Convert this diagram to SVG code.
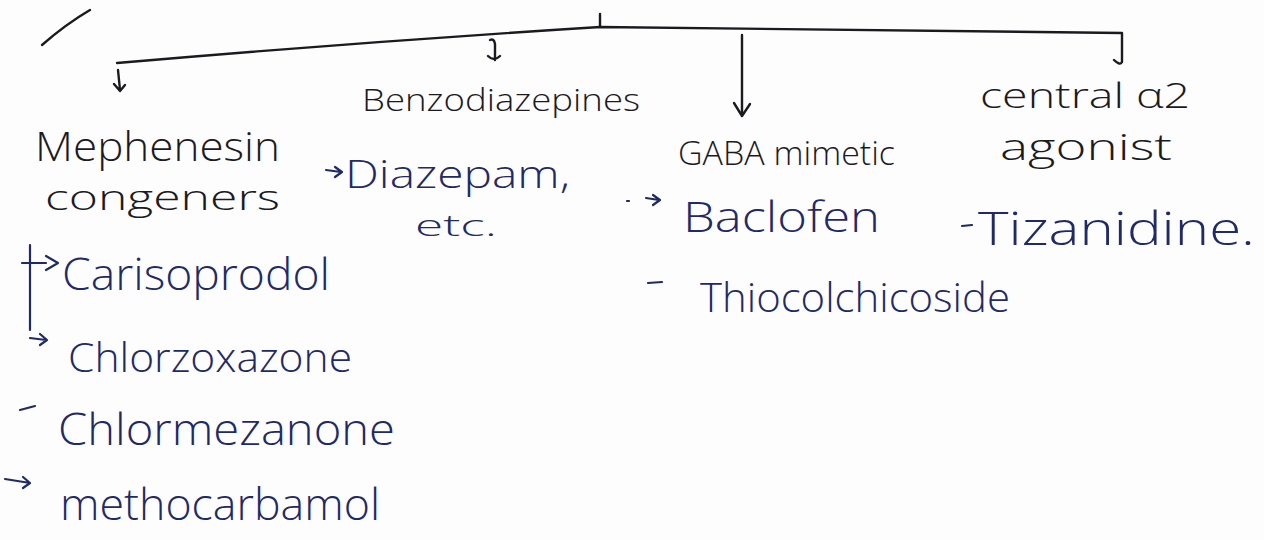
<svg xmlns="http://www.w3.org/2000/svg" width="1264" height="540" viewBox="0 0 1264 540">
<style>
.ink{fill:none;stroke:#1b1b1f;stroke-width:2.4;stroke-linecap:round;stroke-linejoin:round}
.blue{fill:none;stroke:#1f2a66;stroke-width:2.2;stroke-linecap:round;stroke-linejoin:round}
.h{font-family:"Open Sans","Liberation Sans",sans-serif;font-weight:300;fill:#1b1b1f}
.d{font-family:"Open Sans","Liberation Sans",sans-serif;font-weight:300;fill:#1f2a66}
</style>
<rect width="1264" height="540" fill="#fdfdfd"/>
<g id="connectors">
<path class="ink" d="M42,45 Q66,24 90,10"/>
<path class="ink" d="M600,14 L600,26"/>
<path class="ink" d="M117,63 Q360,42 600,27 L1122,33 L1122,62 Q1120,66 1114,60"/>
<path class="ink" d="M118,70 L120,90 M114,84 L120,91 L125,85"/>
<path class="ink" d="M490,40 Q494,38 495,44 L495,60 M488,56 Q494,62 500,56"/>
<path class="ink" d="M742,35 L742,115 M734,103 L742,116 L750,104"/>
<path class="blue" d="M30,245 L30,330 M22,263 L46,263 M46,256 L58,263 L46,270 M30,338 L46,340 M40,334 L47,340 L40,345"/>
<path class="blue" d="M20,410 L35,406"/>
<path class="blue" d="M5,479 L30,483 M23,477 L30,483 L23,488"/>
<path class="blue" d="M326,170 L341,172 M335,167 L342,172 L335,177"/>
<path class="blue" d="M627,201 L629,201 M646,198 L659,200 M653,195 L660,200 L653,205"/>
<path class="blue" d="M648,283 L662,282"/>
<path class="blue" d="M962,226 L972,225"/>
</g>
<g id="mephenesin">
<text class="h" x="35" y="161" font-size="40" textLength="245" lengthAdjust="spacingAndGlyphs">Mephenesin</text>
<text class="h" x="45" y="210" font-size="34" textLength="235" lengthAdjust="spacingAndGlyphs">congeners</text>
</g>
<g id="benzodiazepines">
<text class="h" x="362" y="111" font-size="32" textLength="278" lengthAdjust="spacingAndGlyphs">Benzodiazepines</text>
</g>
<g id="gaba">
<text class="h" x="678" y="165" font-size="33" textLength="217" lengthAdjust="spacingAndGlyphs">GABA mimetic</text>
</g>
<g id="central">
<text class="h" x="980" y="108" font-size="34" textLength="210" lengthAdjust="spacingAndGlyphs">central α2</text>
<text class="h" x="1000" y="160" font-size="36" textLength="172" lengthAdjust="spacingAndGlyphs">agonist</text>
</g>
<g id="diazepam">
<text class="d" x="345" y="188" font-size="38" textLength="225" lengthAdjust="spacingAndGlyphs">Diazepam,</text>
<text class="d" x="415" y="236" font-size="30" textLength="82" lengthAdjust="spacingAndGlyphs">etc.</text>
</g>
<g id="baclofen">
<text class="d" x="683" y="232" font-size="42" textLength="197" lengthAdjust="spacingAndGlyphs">Baclofen</text>
</g>
<g id="thiocolchicoside">
<text class="d" x="700" y="312" font-size="40" textLength="310" lengthAdjust="spacingAndGlyphs">Thiocolchicoside</text>
</g>
<g id="tizanidine">
<text class="d" x="978" y="245" font-size="46" textLength="277" lengthAdjust="spacingAndGlyphs">Tizanidine.</text>
</g>
<g id="carisoprodol">
<text class="d" x="62" y="290" font-size="44" textLength="268" lengthAdjust="spacingAndGlyphs">Carisoprodol</text>
</g>
<g id="chlorzoxazone">
<text class="d" x="68" y="372" font-size="40" textLength="284" lengthAdjust="spacingAndGlyphs">Chlorzoxazone</text>
</g>
<g id="chlormezanone">
<text class="d" x="58" y="445" font-size="44" textLength="337" lengthAdjust="spacingAndGlyphs">Chlormezanone</text>
</g>
<g id="methocarbamol">
<text class="d" x="60" y="520" font-size="44" textLength="320" lengthAdjust="spacingAndGlyphs">methocarbamol</text>
</g>
</svg>
